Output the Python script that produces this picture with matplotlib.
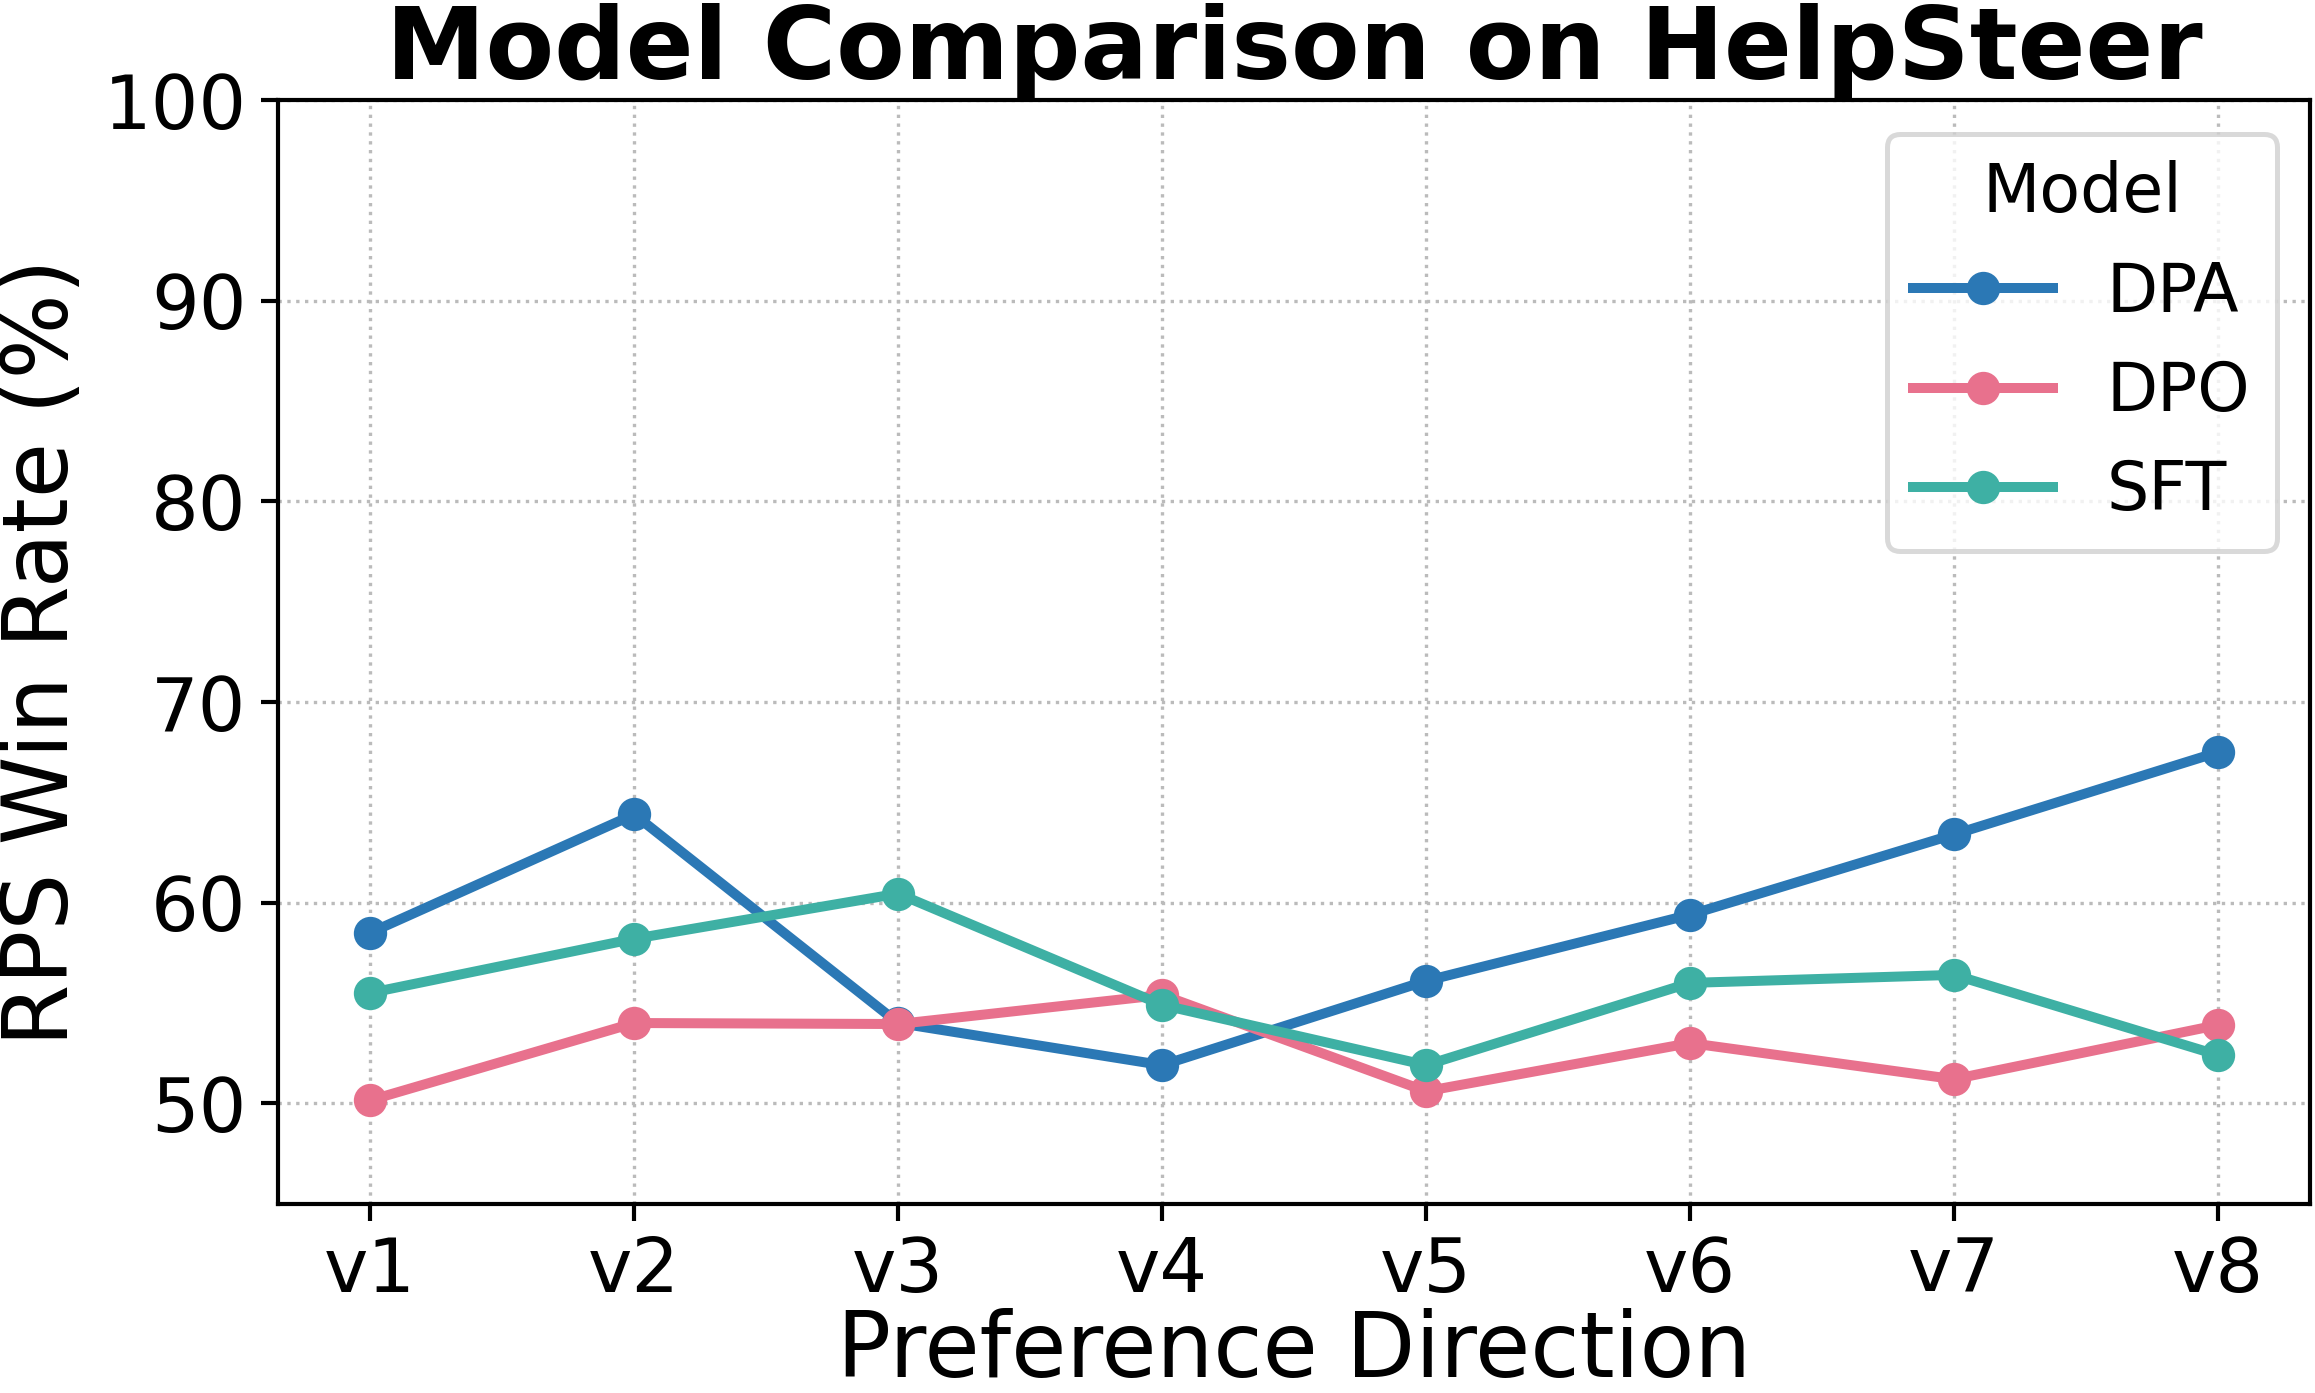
import matplotlib
matplotlib.use("Agg")
import matplotlib.pyplot as plt

categories = ["v1", "v2", "v3", "v4", "v5", "v6", "v7", "v8"]
dpa = [58.5, 64.4, 54.0, 51.9, 56.1, 59.4, 63.4, 67.5]
dpo = [50.15, 54.0, 53.95, 55.4, 50.6, 53.0, 51.2, 53.9]
sft = [55.5, 58.2, 60.45, 54.9, 51.9, 56.0, 56.4, 52.4]
series = {"DPA": dpa, "DPO": dpo, "SFT": sft}
colors = {"DPA": "#2b78b5", "DPO": "#e8718d", "SFT": "#3eb0a4"}
yticks = [50, 60, 70, 80, 90, 100]

fig = plt.figure(figsize=(2315 / 300, 1393 / 300), dpi=300)
ax = fig.add_axes([0.120, 0.136, 0.878, 0.792])

x = list(range(len(categories)))
for name, vals in series.items():
    ax.plot(x, vals, marker="o", color=colors[name], linewidth=2.4,
            markersize=7, label=name)

ax.set_xticks(x)
ax.set_xticklabels(categories)
ax.set_yticks(yticks)
ax.set_ylim(45, 100)
ax.set_xlim(-0.35, 7.35)
ax.tick_params(axis="both", labelsize=18, length=4, width=1)
ax.grid(True, linestyle=":", color="#bbbbbb", linewidth=0.8)
for s in ax.spines.values():
    s.set_linewidth(1.0)
    s.set_color("black")

ax.set_xlabel("Preference Direction", fontsize=21.5, labelpad=0)
ax.set_ylabel("RPS Win Rate (%)", fontsize=21.5, labelpad=4)
ax.set_title("Model Comparison on HelpSteer", fontsize=24, fontweight="bold", pad=3)

leg = ax.legend(title="Model", loc="upper right", fontsize=16, title_fontsize=16,
                frameon=True, fancybox=True, edgecolor="#d0d0d0",
                handlelength=2.1, borderpad=0.4, labelspacing=0.5,
                borderaxespad=0.5)
leg.get_frame().set_linewidth(1.2)

fig.savefig("out.png", dpi=300)
